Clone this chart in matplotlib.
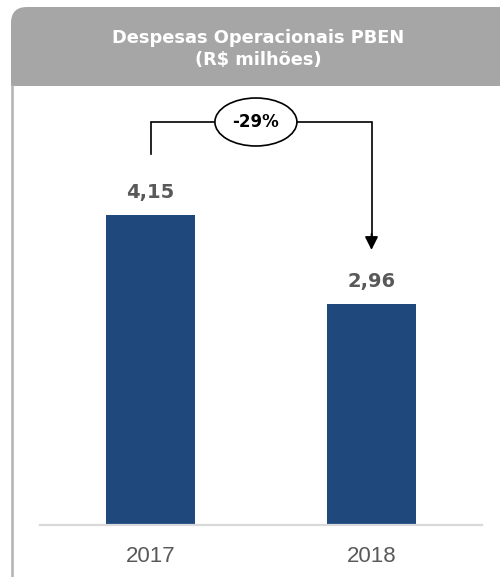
import matplotlib
matplotlib.use('Agg')
import matplotlib.pyplot as plt
from matplotlib.patches import FancyBboxPatch, Rectangle, Ellipse
from matplotlib.lines import Line2D
from matplotlib.transforms import IdentityTransform

# dados
anos = ['2017', '2018']
valores = [4.15, 2.96]
rotulos = ['4,15', '2,96']
variacao = '-29%'
titulo = 'Despesas Operacionais PBEN\n(R$ milhões)'

W, H = 500, 577
fig = plt.figure(figsize=(W / 100, H / 100), dpi=100)
px = IdentityTransform()

# cabeçalho cinza com canto arredondado
cinza = '#A6A6A6'
fig.add_artist(FancyBboxPatch((11, H - 60), 540, 53, boxstyle='round,pad=0,rounding_size=16',
                              transform=px, facecolor=cinza, edgecolor='none'))
fig.add_artist(Rectangle((11, H - 86), 540, 40, transform=px, facecolor=cinza, edgecolor='none'))
fig.text(258 / W, 1 - 49 / H, titulo, color='white', fontsize=12.8, fontweight='bold',
         ha='center', va='center', linespacing=1.35)

# borda esquerda
fig.add_artist(Line2D([12, 12], [0, H - 86], transform=px, color='#B3B3B3', lw=1.8))

# eixo das barras
ax = fig.add_axes([40 / W, 52 / H, 442 / W, (525 - 85) / H])
x = [0, 1]
ax.bar(x, valores, width=0.407, color='#1F487C')
ax.set_xlim(-0.5, 1.5)
ymax = 440 / (310 / 4.15)
ax.set_ylim(0, ymax)
u = ymax / 440  # unidades por pixel

for xi, v, r in zip(x, valores, rotulos):
    ax.text(xi, v + 17 * u, r, ha='center', va='baseline', fontsize=14,
            fontweight='bold', color='#595959')

ax.set_xticks(x)
ax.set_xticklabels(anos, fontsize=16, color='#595959', family='Liberation Sans')
ax.tick_params(axis='x', length=0, pad=15)
ax.set_yticks([])
for s in ['top', 'left', 'right']:
    ax.spines[s].set_visible(False)
ax.spines['bottom'].set_color('#D9D9D9')
ax.spines['bottom'].set_linewidth(1.6)

# colchete com seta
ytop = (525 - 122) * u
ax.plot([0, 0, 1, 1], [valores[0] + 61 * u, ytop, ytop, valores[1] + 68 * u],
        color='black', lw=1.2, solid_joinstyle='miter')
ax.annotate('', xy=(1, valores[1] + 54 * u), xytext=(1, valores[1] + 70 * u),
            arrowprops=dict(arrowstyle='-|>,head_length=0.8,head_width=0.4',
                            color='black', lw=1.2, shrinkA=0, shrinkB=0))
ax.add_patch(Ellipse((0.477, ytop), 82 / 221, 48 * u, facecolor='white',
                     edgecolor='black', lw=1.2, zorder=3))
ax.text(0.477, ytop, variacao, ha='center', va='center', fontsize=12,
        fontweight='bold', color='black', zorder=4)

fig.savefig('out.png', dpi=100)
